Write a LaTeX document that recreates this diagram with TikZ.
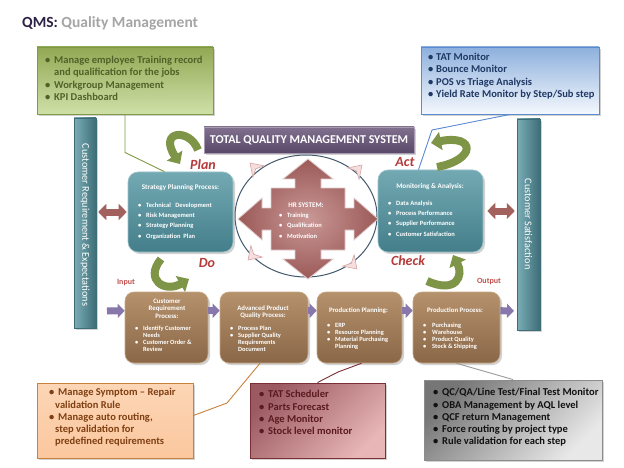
\documentclass[tikz,border=0pt]{standalone}
\usepackage{fontspec}
\setmainfont{Carlito}
\usetikzlibrary{arrows.meta,shadows,calc}
\definecolor{qmsdark}{HTML}{2E2346}
\definecolor{qmsgray}{HTML}{A5A5A5}
\definecolor{gtop}{HTML}{93A854}
\definecolor{gbot}{HTML}{CFE0A8}
\definecolor{gborder}{HTML}{7E9A45}
\definecolor{gtext}{HTML}{4F6228}
\definecolor{btop}{HTML}{8DB0DD}
\definecolor{bbot}{HTML}{F4F8FD}
\definecolor{bborder}{HTML}{5A8AD0}
\definecolor{btext}{HTML}{1F3864}
\definecolor{otop}{HTML}{FCD6B6}
\definecolor{obot}{HTML}{FBC79E}
\definecolor{oborder}{HTML}{C8823E}
\definecolor{otext}{HTML}{7F3F12}
\definecolor{ptop}{HTML}{9B5A61}
\definecolor{pbot}{HTML}{E8B6B6}
\definecolor{pborder}{HTML}{7A2F36}
\definecolor{ptext}{HTML}{5A1A20}
\definecolor{graytop}{HTML}{767676}
\definecolor{graybot}{HTML}{E8E8E8}
\definecolor{grayborder}{HTML}{8C8C8C}
\definecolor{graytext}{HTML}{111111}
\definecolor{tealtop}{HTML}{73A9B3}
\definecolor{tealbot}{HTML}{437E8A}
\definecolor{tealborder}{HTML}{9CC3CA}
\definecolor{barleft}{HTML}{7AADB6}
\definecolor{barright}{HTML}{3D6E78}
\definecolor{browntop}{HTML}{B5916C}
\definecolor{brownbot}{HTML}{8A6747}
\definecolor{brownborder}{HTML}{C8A886}
\definecolor{purptop}{HTML}{80708E}
\definecolor{purpbot}{HTML}{5A4869}
\definecolor{labelred}{HTML}{B53B3B}
\definecolor{inputred}{HTML}{C0504D}
\definecolor{quadin}{HTML}{C99896}
\definecolor{quadout}{HTML}{9B5A58}
\definecolor{dblc}{HTML}{A3615D}
\definecolor{parc}{HTML}{8877AA}
\definecolor{garrowc}{HTML}{7E9548}
\definecolor{circlec}{HTML}{435A6E}
\definecolor{chevfill}{HTML}{F6DEDE}
\definecolor{chevdraw}{HTML}{D4A5A5}
\definecolor{graylinec}{HTML}{9A9A9A}
\newcommand\firstl{\rule{0pt}{8.5pt}}
\newcommand\firsts{\rule{0pt}{5.5pt}}
\newcommand\firstt{\rule{0pt}{5pt}}
\newcommand\bulit[1]{\makebox[#1][l]{\textbullet}}
\begin{document}
\begin{tikzpicture}[x=1pt,y=-1pt,
  shadowed/.style={drop shadow={opacity=0.35,shadow xshift=2pt,shadow yshift=-2pt}},
  callout/.style={draw, line width=0.9pt, inner sep=0, shadowed},
  ctext/.style={anchor=north west, align=left, inner sep=0, font=\bfseries\fontsize{10.5}{12.3}\selectfont},
  tealbox/.style={draw=tealborder, line width=0.6pt, rounded corners=10pt, top color=tealtop, bottom color=tealbot, inner sep=0, shadowed},
  brownbox/.style={draw=brownborder, line width=0.6pt, rounded corners=9pt, top color=browntop, bottom color=brownbot, inner sep=0, shadowed},
  bar/.style={draw=barright, line width=0.5pt, left color=barleft, right color=barright, inner sep=0, shadowed},
  midtitle/.style={font=\bfseries\fontsize{7.1}{8}\selectfont, text=white, inner sep=0, align=center},
  midlist/.style={anchor=north west, align=left, inner sep=0, text=white, font=\bfseries\fontsize{6.5}{10.3}\selectfont},
  smalltitle/.style={anchor=north, font=\bfseries\fontsize{6.8}{7.5}\selectfont, text=white, inner sep=0, align=center},
  smalllist/.style={anchor=north west, align=left, inner sep=0, text=white, font=\bfseries\fontsize{6.4}{7}\selectfont},
  pdca/.style={font=\bfseries\itshape\fontsize{14}{16}\selectfont, text=labelred, inner sep=0},
  iolabel/.style={font=\bfseries\fontsize{8}{9}\selectfont, text=inputred, inner sep=0},
  garrow/.style={line width=8pt, draw=garrowc, -{Triangle[width=18pt,length=10pt]}},
  dblarrow/.style={line width=7pt, draw=dblc, {Triangle[width=16pt,length=8pt]}-{Triangle[width=16pt,length=8pt]}},
  parrow/.style={line width=7pt, draw=parc, -{Triangle[width=14pt,length=7pt]}},
  chev/.style={fill=chevfill, draw=chevdraw, line width=0.6pt},
  bartext/.style={rotate=-90, text=white, inner sep=0, font=\fontsize{10.3}{12}\selectfont},
  pointer/.style={line width=0.9pt}
]
\useasboundingbox (0,0) rectangle (624,468);
\fill[white] (0,0) rectangle (624,468);

% title
\node[anchor=base west, inner sep=0, font=\bfseries\fontsize{15.5}{18}\selectfont] (title) at (22,28)
  {\textcolor{qmsdark}{QMS:} \textcolor{qmsgray}{Quality Management}};

% side bars
\node[bar, minimum width=22, minimum height=210] (lbar) at (85,223) {};
\node[bartext] (ltext) at (85,225) {Customer Requirement \& Expectations};
\node[bar, minimum width=23, minimum height=211] (rbar) at (528.5,224.5) {};
\node[bartext] (rtext) at (528.5,224) {Customer Satisfaction};

% TQMS bar
\node[draw=purptop!70!white, line width=0.6pt, top color=purptop, bottom color=purpbot, minimum width=210, minimum height=26, inner sep=0, shadowed, text=white, font=\bfseries\fontsize{12}{14}\selectfont] (tqms) at (309,140) {TOTAL QUALITY MANAGEMENT SYSTEM};

% circle and HR quad arrow
\draw[circlec, line width=1pt, fill=white] (306,216) ellipse [x radius=71pt, y radius=61pt];
\begin{scope}[shift={(308,219)}]
\draw[draw=white!70!quadout, line width=0.8pt, inner color=quadin, outer color=quadout]
 (0,-60) -- (25,-40) -- (13,-40) -- (13,-31) -- (37,-31) -- (37,-11) -- (46,-11) -- (46,-21) -- (70,0)
 -- (46,21) -- (46,11) -- (37,11) -- (37,31) -- (13,31) -- (13,40) -- (25,40) -- (0,60)
 -- (-25,40) -- (-13,40) -- (-13,31) -- (-37,31) -- (-37,11) -- (-46,11) -- (-46,21) -- (-70,0)
 -- (-46,-21) -- (-46,-11) -- (-37,-11) -- (-37,-31) -- (-13,-31) -- (-13,-40) -- (-25,-40) -- cycle;
\end{scope}
\node[midtitle] (hrtitle) at (306,205) {HR SYSTEM:};
\node[midlist, font=\bfseries\fontsize{6.5}{10.5}\selectfont] (hrlist) at (279,211.5) {\firsts\bulit{8pt}Training\\\bulit{8pt}Qualification\\\bulit{8pt}Motivation};

% chevrons on circle
\draw[chev, shift={(255,168)}, rotate=135] (7,0) -- (-5,8) -- (-1,0) -- (-5,-8) -- cycle;
\draw[chev, shift={(357,170)}, rotate=45] (7,0) -- (-5,8) -- (-1,0) -- (-5,-8) -- cycle;
\draw[chev, shift={(253,255)}, rotate=-135] (7,0) -- (-5,8) -- (-1,0) -- (-5,-8) -- cycle;
\draw[chev, shift={(352,264)}, rotate=-45] (7,0) -- (-5,8) -- (-1,0) -- (-5,-8) -- cycle;

% strategy and monitoring boxes
\node[tealbox, minimum width=105, minimum height=80] (strat) at (180.5,212) {};
\node[midtitle] (strattitle) at (180.5,188) {Strategy Planning Process:};
\node[midlist] (stratlist) at (138,201.5) {\firsts\bulit{8pt}Technical\ \ \ Development\\\bulit{8pt}Risk Management\\\bulit{8pt}Strategy Planning\\\bulit{8pt}Organization\ \ Plan};
\node[tealbox, minimum width=105, minimum height=82] (mon) at (430.5,211) {};
\node[midtitle] (montitle) at (430,187) {Monitoring \& Analysis:};
\node[midlist] (monlist) at (388,199.5) {\firsts\bulit{8pt}Data Analysis\\\bulit{8pt}Process Performance\\\bulit{8pt}Supplier Performance\\\bulit{8pt}Customer Satisfaction};

% double arrows
\draw[dblarrow, shorten <=2pt, shorten >=1pt] (lbar.east |- strat.west) -- (strat.west);
\draw[dblarrow, shorten <=4pt, shorten >=2pt] (mon.east) -- (rbar.west |- mon.east);

% PDCA labels
\node[pdca] (plan) at (203,165) {Plan};
\node[pdca] (do) at (207,263) {Do};
\node[pdca] (act) at (405,162) {Act};
\node[pdca] (check) at (408,261) {Check};
\node[iolabel] (input) at (126,283) {Input};
\node[iolabel] (output) at (489,282) {Output};

% green curved arrows
\draw[garrow] (198,150) .. controls (190,128) and (158,130) .. (180,164);
\draw[garrow] (437,167) .. controls (476,160) and (476,134) .. (431,143);
\draw[garrow] (161,259) .. controls (144,280) and (165,293) .. (189,279);
\draw[garrow] (427,281) .. controls (456,294) and (464,276) .. (453,255);

% bottom process boxes
\node[brownbox, minimum width=83, minimum height=71] (box1) at (166.5,327.5) {};
\node[brownbox, minimum width=88, minimum height=71] (box2) at (264,327.5) {};
\node[brownbox, minimum width=85, minimum height=71] (box3) at (359.5,327.5) {};
\node[brownbox, minimum width=87, minimum height=71] (box4) at (456.5,327.5) {};

\node[smalltitle] (b1t) at (167,298) {\firstt Customer\\Requirement\\Process:};
\node[smalllist] (b1l) at (135,325) {\firstt\bulit{8pt}Identify Customer\\\hspace*{8pt}Needs\\\bulit{8pt}Customer Order \&\\\hspace*{8pt}Review};
\node[smalltitle] (b2t) at (263,305) {\firstt Advanced Product\\Quality Process:};
\node[smalllist] (b2l) at (230,325) {\firstt\bulit{8pt}Process Plan\\\bulit{8pt}Supplier Quality\\\hspace*{8pt}Requirements\\\hspace*{8pt}Document};
\node[smalltitle] (b3t) at (358.5,307) {\firstt Production Planning:};
\node[smalllist] (b3l) at (327,322) {\firstt\bulit{8pt}ERP\\\bulit{8pt}Resource Planning\\\bulit{8pt}Material Purchasing\\\hspace*{8pt}Planning};
\node[smalltitle] (b4t) at (455,307) {\firstt Production Process:};
\node[smalllist] (b4l) at (423,322) {\firstt\bulit{9pt}Purchasing\\\bulit{9pt}Warehouse\\\bulit{9pt}Product Quality\\\bulit{9pt}Stock \& Shipping};

% purple flow arrows
\coordinate (inA) at (107,311);
\coordinate (outB) at (514,311);
\draw[parrow] (inA) -- ([yshift=-19pt]box1.north west);
\draw[parrow] ([yshift=-19pt]box1.north east) -- ([yshift=-19pt]box2.north west);
\draw[parrow] ([yshift=-19pt]box2.north east) -- ([yshift=-19pt]box3.north west);
\draw[parrow] ([yshift=-19pt]box3.north east) -- ([yshift=-19pt]box4.north west);
\draw[parrow] ([yshift=-19pt]box4.north east) -- (outB);

% callouts
\node[callout, draw=gborder, top color=gtop, bottom color=gbot, minimum width=176, minimum height=67] (gcall) at (125,80.5) {};
\node[ctext, text=gtext] (gtxt) at (45,55) {\firstl\bulit{9pt}Manage employee Training record\\\hspace*{9pt}and qualification for the jobs\\\bulit{9pt}Workgroup Management\\\bulit{9pt}KPI Dashboard};

\node[callout, draw=bborder, top color=btop, bottom color=bbot, minimum width=178, minimum height=67] (bcall) at (510,80.5) {};
\node[ctext, text=btext] (btxt) at (428,52) {\firstl\bulit{8pt}TAT Monitor\\\bulit{8pt}Bounce Monitor\\\bulit{8pt}POS vs Triage Analysis\\\bulit{8pt}Yield Rate Monitor by Step/Sub step};

\node[callout, draw=oborder, top color=otop, bottom color=obot, minimum width=156, minimum height=75] (ocall) at (115,420.5) {};
\node[ctext, text=otext] (otxt) at (49,387) {\firstl\bulit{9pt}Manage Symptom – Repair\\\hspace*{6pt}validation Rule\\\bulit{9pt}Manage auto routing,\\\hspace*{6pt}step validation for\\\hspace*{6pt}predefined requirements};

\node[callout, draw=pborder, top color=ptop, bottom color=pbot, shading angle=45, minimum width=135, minimum height=75] (pcall) at (317.5,420.5) {};
\node[ctext, text=ptext] (ptxt) at (259,389) {\firstl\bulit{9pt}TAT Scheduler\\\bulit{9pt}Parts Forecast\\\bulit{9pt}Age Monitor\\\bulit{9pt}Stock level monitor};

\node[callout, draw=grayborder, top color=graytop, bottom color=graybot, shading angle=45, minimum width=178, minimum height=80] (ycall) at (513,420) {};
\node[ctext, text=graytext] (ytxt) at (433,387) {\firstl\bulit{9pt}QC/QA/Line Test/Final Test Monitor\\\bulit{9pt}OBA Management by AQL level\\\bulit{9pt}QCF return Management\\\bulit{9pt}Force routing by project type\\\bulit{9pt}Rule validation for each step};

% pointer lines
\draw[pointer, gborder] (gcall.south) -- ++(0,38) -- ([xshift=-16pt]strat.north);
\draw[pointer, bborder] (bcall.south) -- (432,130) -- ([xshift=-12pt]mon.north);
\draw[pointer, oborder] ([yshift=5pt]ocall.east) -- (227,403) -- ([xshift=-4pt]box2.south);
\draw[pointer, pborder] (pcall.north) -- (338,372) -- ([xshift=2pt]box3.south);
\draw[pointer, graylinec] (box4.south) -- (ycall.north);
\end{tikzpicture}
\end{document}
